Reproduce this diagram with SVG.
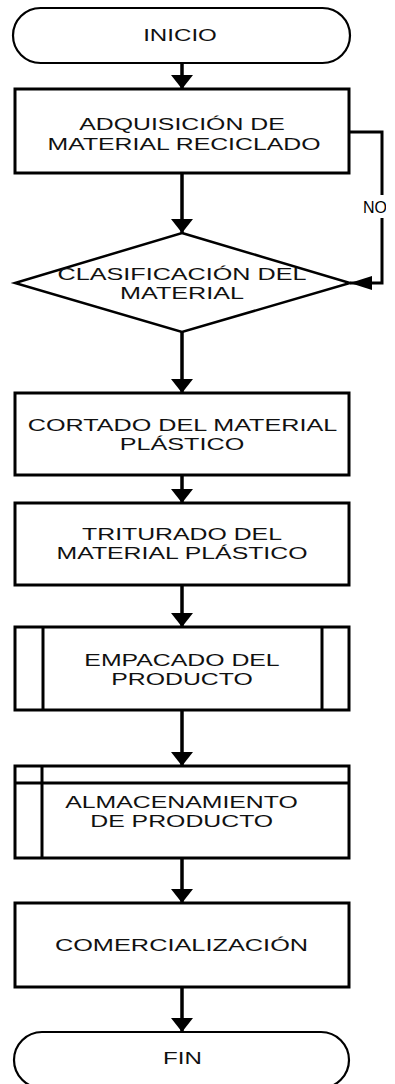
<svg xmlns="http://www.w3.org/2000/svg" width="395" height="1084" viewBox="0 0 395 1084">
<style>
.shape{fill:#fff;stroke:#000;stroke-width:3}
.term{fill:#fff;stroke:#000;stroke-width:2.2}
.inner{fill:none;stroke:#000;stroke-width:3}
.conn{fill:none;stroke:#000;stroke-width:3.5}
.noconn{fill:none;stroke:#000;stroke-width:3}
.lbl{font-family:"Liberation Sans",Arial,sans-serif;font-size:17px;fill:#111;text-anchor:middle}
.no{font-family:"Liberation Sans",Arial,sans-serif;font-size:16px;fill:#000}
</style>
<defs>
<marker id="ah" viewBox="0 0 14 22" refX="14" refY="11" markerWidth="14" markerHeight="22" markerUnits="userSpaceOnUse" orient="auto">
<path d="M0,0 L14,11 L0,22 z" fill="#000"/>
</marker>
<marker id="ah2" viewBox="0 0 22 14" refX="22" refY="7" markerWidth="22" markerHeight="14" markerUnits="userSpaceOnUse" orient="auto">
<path d="M0,0 L22,7 L0,14 z" fill="#000"/>
</marker>
<clipPath id="noclip"><rect x="355" y="190" width="31" height="30"/></clipPath>
</defs>
<g id="connectors">
<line class="conn" x1="182" y1="63" x2="182" y2="89" marker-end="url(#ah)"/>
<line class="conn" x1="182" y1="173" x2="182" y2="233" marker-end="url(#ah)"/>
<line class="conn" x1="182" y1="332" x2="182" y2="393" marker-end="url(#ah)"/>
<line class="conn" x1="182" y1="475" x2="182" y2="503" marker-end="url(#ah)"/>
<line class="conn" x1="182" y1="585" x2="182" y2="627" marker-end="url(#ah)"/>
<line class="conn" x1="182" y1="710" x2="182" y2="766" marker-end="url(#ah)"/>
<line class="conn" x1="182" y1="858" x2="182" y2="903" marker-end="url(#ah)"/>
<line class="conn" x1="182" y1="987" x2="182" y2="1032" marker-end="url(#ah)"/>
<path class="noconn" d="M349,132 H382 V195 M382,218 V283 H350" marker-end="url(#ah2)"/>
<text class="no" x="363" y="213" clip-path="url(#noclip)">NO</text>
</g>
<g id="inicio">
<rect class="term" x="13" y="8" width="337" height="55" rx="27.5" ry="27.5"/>
<text class="lbl" transform="translate(180,41) scale(1.42,1)">INICIO</text>
</g>
<g id="adquisicion">
<rect class="shape" x="15" y="89" width="334" height="84"/>
<text class="lbl" transform="translate(182,130) scale(1.46,1)">ADQUISICIÓN DE</text>
<text class="lbl" transform="translate(184,150) scale(1.46,1)">MATERIAL RECICLADO</text>
</g>
<g id="clasificacion">
<polygon class="shape" points="182,233 350,283 182,332 15,283" style="stroke-width:2.5"/>
<text class="lbl" transform="translate(182,279.5) scale(1.48,1)">CLASIFICACIÓN DEL</text>
<text class="lbl" transform="translate(182,298.5) scale(1.48,1)">MATERIAL</text>
</g>
<g id="cortado">
<rect class="shape" x="15" y="393" width="334" height="82"/>
<text class="lbl" transform="translate(182.5,431) scale(1.48,1)">CORTADO DEL MATERIAL</text>
<text class="lbl" transform="translate(182,450) scale(1.48,1)">PLÁSTICO</text>
</g>
<g id="triturado">
<rect class="shape" x="15" y="503" width="334" height="82"/>
<text class="lbl" transform="translate(182,540) scale(1.46,1)">TRITURADO DEL</text>
<text class="lbl" transform="translate(182,559) scale(1.46,1)">MATERIAL PLÁSTICO</text>
</g>
<g id="empacado">
<rect class="shape" x="15" y="627" width="334" height="83"/>
<line class="inner" x1="43" y1="627" x2="43" y2="710"/>
<line class="inner" x1="322" y1="627" x2="322" y2="710"/>
<text class="lbl" transform="translate(182,665.5) scale(1.46,1)">EMPACADO DEL</text>
<text class="lbl" transform="translate(182,684.5) scale(1.46,1)">PRODUCTO</text>
</g>
<g id="almacenamiento">
<rect class="shape" x="15" y="766" width="334" height="92"/>
<line class="inner" x1="42" y1="766" x2="42" y2="858"/>
<line class="inner" x1="15" y1="783" x2="349" y2="783"/>
<text class="lbl" transform="translate(181.5,808) scale(1.46,1)">ALMACENAMIENTO</text>
<text class="lbl" transform="translate(181.7,827) scale(1.46,1)">DE PRODUCTO</text>
</g>
<g id="comercializacion">
<rect class="shape" x="15" y="903" width="334" height="84"/>
<text class="lbl" transform="translate(181.5,951) scale(1.49,1)">COMERCIALIZACIÓN</text>
</g>
<g id="fin">
<rect class="term" x="14" y="1032" width="335" height="56" rx="28" ry="28"/>
<text class="lbl" transform="translate(182.5,1064) scale(1.42,1)">FIN</text>
</g>
</svg>
